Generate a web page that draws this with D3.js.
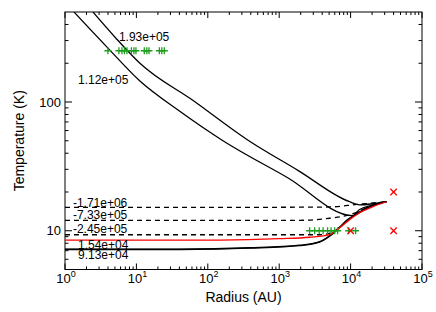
<!DOCTYPE html>
<html>
<head>
<meta charset="utf-8">
<script src="https://cdn.jsdelivr.net/npm/d3@7"></script>
<style>
  body { margin: 0; background: #fff; }
  text { font-family: "Liberation Sans", Arial, Helvetica, sans-serif; fill: #000; }
</style>
</head>
<body>
<svg id="chart" width="436" height="312"></svg>
<script>
// radius (AU) / temperature (K) pairs
const lowDescR = [1.34, 3.87, 11.2, 41.9, 157, 1315, 10670, 13370, 18450, 31800];
const lowDescT = [499, 267, 145.5, 83.6, 50.7, 25.8, 13.1, 14.6, 15.6, 16.8];

const highDescR = [2.47, 5.17, 11.2, 63.7, 362, 1875, 9680, 13370, 31800];
const highDescT = [499, 313, 200, 101.8, 50.7, 29.2, 16.8, 15.9, 16.8];

const dashTopR = [1, 386, 5080, 12130, 31800];
const dashTopT = [15.2, 15.2, 15.3, 16.0, 16.8];
const dashMidR = [1, 1935, 5080, 9680, 18450, 31800];
const dashMidT = [12.05, 12.05, 12.5, 13.3, 15.35, 16.8];
const dashLowR = [1, 3680, 5420, 7480, 10330, 15700, 31800];
const dashLowT = [9.31, 9.31, 9.65, 10.9, 12.8, 14.8, 16.8];

const redR = [1, 147, 1016, 2670, 5080, 7020, 9680, 13370, 20300, 31800];
const redT = [8.47, 8.47, 8.67, 8.9, 9.31, 10.55, 12.2, 13.8, 15.35, 16.8];

const flatAR = [1, 40.6, 386, 1935, 3680, 5080, 7020, 9080, 12130, 18450, 31800];
const flatAT = [7.21, 7.21, 7.38, 7.72, 8.22, 9.15, 10.7, 12.2, 13.5, 15.35, 16.8];
const flatBT = [7.15, 7.15, 7.32, 7.65, 8.15, 9.05, 10.6, 12.1, 13.4, 15.3, 16.8];

const greenTopR = [3.99, 5.69, 6.27, 6.79, 7.36, 8.51, 9.23, 9.85, 12.9, 14.0, 15.0, 21.0, 22.7, 24.6];
const greenTopT = 250;
const greenLowR = [2670, 3140, 3630, 4120, 4760, 5330, 5970, 6580, 9380, 11750];
const greenLowT = 10;

const crossR = [10000, 40000, 40000];
const crossT = [10, 10, 20];

const labelText = ["1.93e+05", "1.12e+05", "-1.71e+06", "-7.33e+05", "-2.45e+05", "1.54e+04", "9.13e+04"];
const labelR = [5.69, 1.52, 1.29, 1.29, 1.29, 1.52, 1.52];
const labelT = [297, 138, 15.4, 12.3, 9.6, 7.21, 6.07];

const xExponents = [0, 1, 2, 3, 4, 5];
const yLabels = [10, 100];

const svg = d3.select("#chart");
const margin = { left: 65, right: 14, top: 12, bottom: 42.5 };
const width = 436, height = 312;

const x = d3.scaleLog().domain([1, 1e5]).range([margin.left, width - margin.right]);
const y = d3.scaleLog().domain([5, 500]).range([height - margin.bottom, margin.top]);

const [x0, x1] = x.range();
const [y0, y1] = y.range();

svg.append("defs").append("clipPath").attr("id", "plot")
  .append("rect")
  .attr("x", x0).attr("y", y1)
  .attr("width", x1 - x0).attr("height", y0 - y1);

// ticks (inside, all four sides)
const xMajor = xExponents.map((e) => Math.pow(10, e));
const xMinor = [];
xExponents.slice(0, -1).forEach((e) => {
  for (let k = 2; k <= 9; k++) xMinor.push(k * Math.pow(10, e));
});
const yMinor = [6, 7, 8, 9, 20, 30, 40, 50, 60, 70, 80, 90, 200, 300, 400];

const axisG = svg.append("g").attr("stroke", "#000").attr("stroke-width", 1);

const xTick = (vals, len) => {
  axisG.append("g").selectAll("line").data(vals).join("line")
    .attr("x1", (d) => x(d)).attr("x2", (d) => x(d)).attr("y1", y0).attr("y2", y0 - len);
  axisG.append("g").selectAll("line").data(vals).join("line")
    .attr("x1", (d) => x(d)).attr("x2", (d) => x(d)).attr("y1", y1).attr("y2", y1 + len);
};
const yTick = (vals, len) => {
  axisG.append("g").selectAll("line").data(vals).join("line")
    .attr("y1", (d) => y(d)).attr("y2", (d) => y(d)).attr("x1", x0).attr("x2", x0 + len);
  axisG.append("g").selectAll("line").data(vals).join("line")
    .attr("y1", (d) => y(d)).attr("y2", (d) => y(d)).attr("x1", x1).attr("x2", x1 - len);
};
xTick(xMajor, 6);
xTick(xMinor, 3);
yTick(yLabels, 7);
yTick(yMinor, 3.5);

axisG.append("rect")
  .attr("x", x0).attr("y", y1)
  .attr("width", x1 - x0).attr("height", y0 - y1)
  .attr("fill", "none");

// tick labels
const xl = svg.append("g").selectAll("text").data(xExponents).join("text")
  .attr("x", (e) => x(Math.pow(10, e)) + 1)
  .attr("y", y0 + 13)
  .attr("text-anchor", "middle")
  .attr("font-size", 13);
xl.append("tspan").text("10");
xl.append("tspan").attr("dy", -6).attr("font-size", 9).text((e) => e);

svg.append("g").selectAll("text").data(yLabels).join("text")
  .attr("x", x0 - 4)
  .attr("y", (d) => y(d))
  .attr("dy", "0.36em")
  .attr("text-anchor", "end")
  .attr("font-size", 13)
  .text((d) => d);

svg.append("text")
  .attr("x", (x0 + x1) / 2).attr("y", 302)
  .attr("text-anchor", "middle").attr("font-size", 14)
  .text("Radius (AU)");
svg.append("text")
  .attr("transform", `translate(24,${(y0 + y1) / 2}) rotate(-90)`)
  .attr("text-anchor", "middle").attr("font-size", 14)
  .text("Temperature (K)");

// curves
const line = d3.line().x((d) => x(d[0])).y((d) => y(d[1])).curve(d3.curveMonotoneX);
const zip = (rs, ts) => rs.map((r, i) => [r, ts[i]]);

const curves = [
  { d: zip(dashTopR, dashTopT), color: "#000", dash: "5,4" },
  { d: zip(dashMidR, dashMidT), color: "#000", dash: "5,4" },
  { d: zip(dashLowR, dashLowT), color: "#000", dash: "5,4" },
  { d: zip(lowDescR, lowDescT), color: "#000", dash: null },
  { d: zip(highDescR, highDescT), color: "#000", dash: null },
  { d: zip(flatAR, flatAT), color: "#000", dash: null },
  { d: zip(flatAR, flatBT), color: "#000", dash: null },
  { d: zip(redR, redT), color: "#ff0000", dash: null },
];

svg.append("g").attr("clip-path", "url(#plot)")
  .selectAll("path").data(curves).join("path")
  .attr("d", (c) => line(c.d))
  .attr("fill", "none")
  .attr("stroke", (c) => c.color)
  .attr("stroke-width", 1.3)
  .attr("stroke-dasharray", (c) => c.dash);

// markers
const plusPts = greenTopR.map((r) => [r, greenTopT]).concat(greenLowR.map((r) => [r, greenLowT]));
svg.append("g").selectAll("path").data(plusPts).join("path")
  .attr("transform", (d) => `translate(${x(d[0])},${y(d[1])})`)
  .attr("d", "M-3.5,0H3.5M0,-3.5V3.5")
  .attr("stroke", "#1e9e1e")
  .attr("stroke-width", 1.3);

svg.append("g").selectAll("path").data(zip(crossR, crossT)).join("path")
  .attr("transform", (d) => `translate(${x(d[0])},${y(d[1])})`)
  .attr("d", "M-3.2,-3.2L3.2,3.2M-3.2,3.2L3.2,-3.2")
  .attr("stroke", "#ff0000")
  .attr("stroke-width", 1.3);

// curve labels
svg.append("g").selectAll("text").data(labelText).join("text")
  .attr("x", (d, i) => x(labelR[i]))
  .attr("y", (d, i) => y(labelT[i]))
  .attr("font-size", 12)
  .text((d) => d);
</script>
</body>
</html>
